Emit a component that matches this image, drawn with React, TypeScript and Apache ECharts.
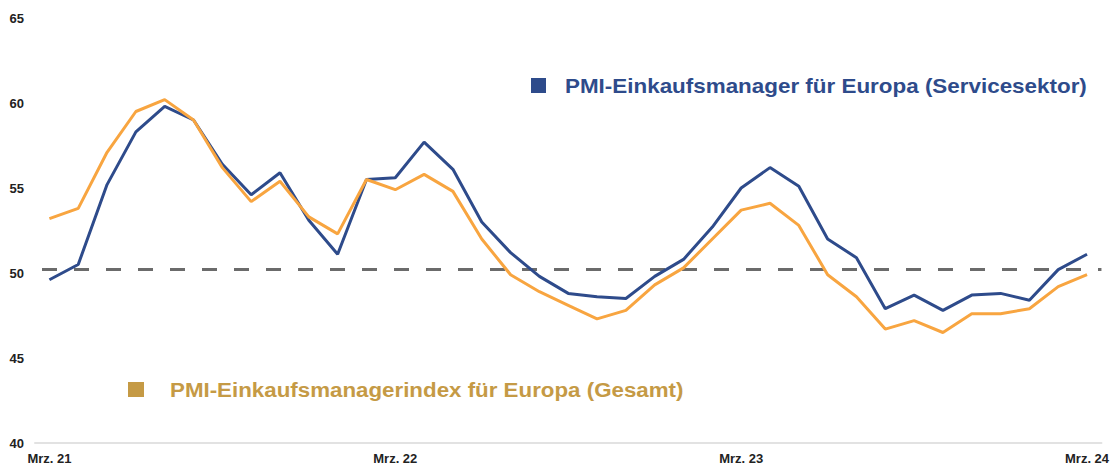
import React, { useEffect, useRef } from "react";
import * as echarts from "echarts";

const categories = [
  "Mrz. 21", "Apr. 21", "Mai 21", "Jun. 21", "Jul. 21", "Aug. 21", "Sep. 21", "Okt. 21", "Nov. 21", "Dez. 21",
  "Jan. 22", "Feb. 22", "Mrz. 22", "Apr. 22", "Mai 22", "Jun. 22", "Jul. 22", "Aug. 22", "Sep. 22", "Okt. 22",
  "Nov. 22", "Dez. 22", "Jan. 23", "Feb. 23", "Mrz. 23", "Apr. 23", "Mai 23", "Jun. 23", "Jul. 23", "Aug. 23",
  "Sep. 23", "Okt. 23", "Nov. 23", "Dez. 23", "Jan. 24", "Feb. 24", "Mrz. 24",
];

const servicesPMI = [
  49.6, 50.5, 55.2, 58.3, 59.8, 59.0, 56.4, 54.6, 55.9, 53.1,
  51.1, 55.5, 55.6, 57.7, 56.1, 53.0, 51.2, 49.8, 48.8, 48.6,
  48.5, 49.8, 50.8, 52.7, 55.0, 56.2, 55.1, 52.0, 50.9, 47.9,
  48.7, 47.8, 48.7, 48.8, 48.4, 50.2, 51.1,
];

const compositePMI = [
  53.2, 53.8, 57.1, 59.5, 60.2, 59.0, 56.2, 54.2, 55.4, 53.3,
  52.3, 55.5, 54.9, 55.8, 54.8, 52.0, 49.9, 48.9, 48.1, 47.3,
  47.8, 49.3, 50.3, 52.0, 53.7, 54.1, 52.8, 49.9, 48.6, 46.7,
  47.2, 46.5, 47.6, 47.6, 47.9, 49.2, 49.9,
];

const servicesName = "PMI-Einkaufsmanager für Europa (Servicesektor)";
const compositeName = "PMI-Einkaufsmanagerindex für Europa (Gesamt)";
const thresholdValue = 50.2;
const yTicks = { min: 40, max: 65, interval: 5 };

const BLUE = "#2E4B8B";
const ORANGE = "#F8A540";
const TAN = "#C59A45";
const FONT = 'Arial, "Liberation Sans", sans-serif';

export default function App() {
  const ref = useRef<HTMLDivElement>(null);

  useEffect(() => {
    if (!ref.current) return;
    const chart = echarts.init(ref.current, undefined, { renderer: "svg" });
    chart.setOption({
      animation: false,
      backgroundColor: "#ffffff",
      grid: { left: 35, right: 5, top: 18, bottom: 23, containLabel: false },
      xAxis: {
        type: "category",
        data: categories,
        boundaryGap: true,
        axisLine: { show: true, lineStyle: { color: "#e2e2e2", width: 2 } },
        axisTick: { show: false },
        axisLabel: {
          interval: 11,
          margin: 9,
          color: "#222222",
          fontFamily: FONT,
          fontWeight: "bold",
          fontSize: 13,
        },
        splitLine: { show: false },
      },
      yAxis: {
        type: "value",
        min: yTicks.min,
        max: yTicks.max,
        interval: yTicks.interval,
        axisLine: { show: false },
        axisTick: { show: false },
        splitLine: { show: false },
        axisLabel: {
          margin: 11,
          color: "#222222",
          fontFamily: FONT,
          fontWeight: "bold",
          fontSize: 13,
        },
      },
      series: [
        {
          name: servicesName,
          type: "line",
          data: servicesPMI,
          symbol: "none",
          lineStyle: { color: BLUE, width: 3 },
          itemStyle: { color: BLUE },
          z: 2,
          markLine: {
            silent: true,
            symbol: "none",
            label: { show: false },
            lineStyle: { color: "#6b6b6b", width: 3, type: [15, 17], dashOffset: 25 },
            data: [{ yAxis: thresholdValue }],
            z: 1,
          },
        },
        {
          name: compositeName,
          type: "line",
          data: compositePMI,
          symbol: "none",
          lineStyle: { color: ORANGE, width: 3 },
          itemStyle: { color: ORANGE },
          z: 3,
        },
      ],
      graphic: [
        { type: "rect", x: 531, y: 78, shape: { width: 15, height: 15 }, style: { fill: BLUE } },
        {
          type: "text",
          x: 565,
          y: 86,
          scaleX: 1.15,
          style: { text: servicesName, fill: BLUE, font: `bold 19.5px ${FONT}`, verticalAlign: "middle" },
        },
        { type: "rect", x: 128, y: 382, shape: { width: 16, height: 15 }, style: { fill: TAN } },
        {
          type: "text",
          x: 170,
          y: 390,
          scaleX: 1.145,
          style: { text: compositeName, fill: TAN, font: `bold 19.5px ${FONT}`, verticalAlign: "middle" },
        },
      ],
    });
    return () => chart.dispose();
  }, []);

  return (
    <div
      ref={ref}
      style={{ position: "fixed", left: 0, top: 0, width: 1112, height: 466, background: "#fff" }}
    />
  );
}
